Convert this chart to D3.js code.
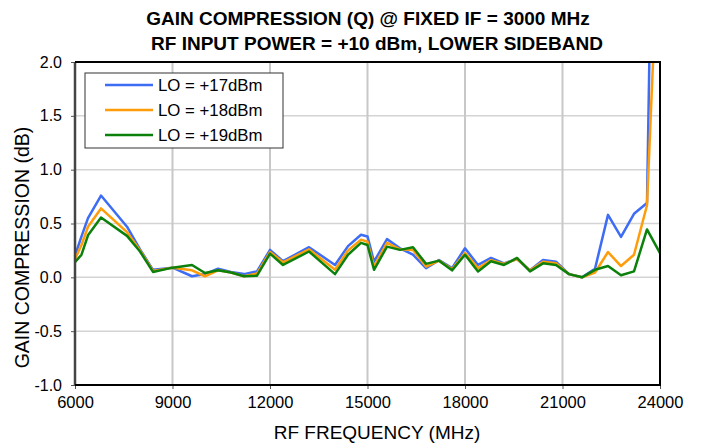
<!DOCTYPE html>
<html>
<head>
<meta charset="utf-8">
<script src="https://cdn.jsdelivr.net/npm/d3@7"></script>
<style>
  body { margin: 0; background: #fff; }
  text { font-family: "Liberation Sans", Arial, sans-serif; fill: #000; }
</style>
</head>
<body>
<svg id="chart" width="701" height="445"></svg>
<script>
// RF frequency (MHz) for each reading
const freq = [6000, 6200, 6400, 6800, 7600, 8000, 8400, 9000, 9600, 10000, 10400, 10800, 11200, 11600,
    12000, 12400, 13200, 14000, 14400, 14800, 15000, 15200, 15600, 16000, 16400, 16800, 17200, 17600,
    18000, 18400, 18800, 19200, 19600, 20000, 20400, 20800, 21200, 21600, 22000, 22400, 22800, 23200, 23600, 24000]

// gain compression (dB)
const lo17 = [0.20, 0.38, 0.55, 0.76, 0.47, 0.26, 0.07, 0.09, 0.01, 0.03, 0.08, 0.05, 0.03, 0.055,
    0.255, 0.15, 0.28, 0.115, 0.29, 0.395, 0.38, 0.145, 0.355, 0.27, 0.21, 0.085, 0.16, 0.085,
    0.27, 0.115, 0.18, 0.13, 0.17, 0.065, 0.16, 0.145, 0.03, 0.0, 0.08, 0.58, 0.375, 0.59, 0.69, 8.0]
const lo18 = [0.17, 0.30, 0.47, 0.64, 0.42, 0.25, 0.06, 0.09, 0.065, 0.01, 0.065, 0.045, 0.01, 0.035,
    0.235, 0.14, 0.26, 0.07, 0.25, 0.35, 0.33, 0.10, 0.32, 0.26, 0.255, 0.10, 0.155, 0.075,
    0.225, 0.085, 0.16, 0.125, 0.17, 0.065, 0.145, 0.13, 0.03, 0.0, 0.045, 0.235, 0.105, 0.21, 0.67, 3.55]
const lo19 = [0.14, 0.21, 0.39, 0.555, 0.385, 0.24, 0.05, 0.09, 0.115, 0.04, 0.065, 0.045, 0.01, 0.015,
    0.22, 0.115, 0.24, 0.03, 0.21, 0.32, 0.30, 0.07, 0.285, 0.255, 0.28, 0.125, 0.155, 0.065,
    0.21, 0.055, 0.15, 0.115, 0.18, 0.055, 0.13, 0.115, 0.03, 0.0, 0.07, 0.105, 0.02, 0.055, 0.445, 0.225]

const seriesNames = ["LO = +17dBm", "LO = +18dBm", "LO = +19dBm"]
const seriesColors = ["#3d6cf5", "#ff9c0a", "#0b800b"]
const xTicks = [6000, 9000, 12000, 15000, 18000, 21000, 24000]
const yTicks = [-1.0, -0.5, 0.0, 0.5, 1.0, 1.5, 2.0]

const svg = d3.select("#chart")
const pLeft = 75, pRight = 660, pTop = 62, pBottom = 385

const x = d3.scaleLinear().domain([6000, 24000]).range([pLeft, pRight])
const y = d3.scaleLinear().domain([-1, 2]).range([pBottom, pTop])

// grid
svg.append("g")
    .selectAll("line")
    .data(yTicks.slice(1, -1))
    .enter()
    .append("line")
        .attr("x1", pLeft).attr("x2", pRight)
        .attr("y1", d => y(d)).attr("y2", d => y(d))
        .attr("stroke", "#d4d4d4")
        .attr("stroke-width", 1.5)

svg.append("g")
    .selectAll("line")
    .data(xTicks.slice(1, -1))
    .enter()
    .append("line")
        .attr("x1", d => x(d)).attr("x2", d => x(d))
        .attr("y1", pTop).attr("y2", pBottom)
        .attr("stroke", "#c8c8c8")
        .attr("stroke-width", 2)

// axes
const xAxis = svg.append("g")
    .attr("transform", `translate(0,${pBottom})`)
    .call(d3.axisBottom(x).tickValues(xTicks).tickFormat(d3.format("d")).tickSize(4).tickPadding(7))
xAxis.select(".domain").remove()
xAxis.selectAll("line").attr("stroke", "#555")
xAxis.selectAll("text").style("font-size", "16.5px")

const yAxis = svg.append("g")
    .attr("transform", `translate(${pLeft},0)`)
    .call(d3.axisLeft(y).tickValues(yTicks).tickFormat(d => d.toFixed(1)).tickSize(4).tickPadding(9))
yAxis.select(".domain").remove()
yAxis.selectAll("line").attr("stroke", "#555")
yAxis.selectAll("text").style("font-size", "16px")

// lines
svg.append("clipPath").attr("id", "clip")
    .append("rect")
        .attr("x", pLeft).attr("y", pTop)
        .attr("width", pRight - pLeft).attr("height", pBottom - pTop)

const line = d3.line()
    .x((d, i) => x(freq[i]))
    .y(d => y(d))

const plot = svg.append("g").attr("clip-path", "url(#clip)")
;[lo17, lo18, lo19].forEach((vals, i) => {
    plot.append("path")
        .attr("d", line(vals))
        .attr("fill", "none")
        .attr("stroke", seriesColors[i])
        .attr("stroke-width", 2.5)
        .attr("stroke-linejoin", "round")
})

// frame
svg.append("line")
    .attr("x1", pLeft).attr("x2", pLeft).attr("y1", pTop).attr("y2", pBottom)
    .attr("stroke", "#444").attr("stroke-width", 2.5)
svg.append("path")
    .attr("d", `M${pLeft},${pTop}H${pRight}V${pBottom}H${pLeft}`)
    .attr("fill", "none")
    .attr("stroke", "#000")
    .attr("stroke-width", 2)

// legend
const legend = svg.append("g")
legend.append("rect")
    .attr("x", 85).attr("y", 73).attr("width", 198).attr("height", 75)
    .attr("fill", "#fff")
    .attr("stroke", "#333")
    .attr("stroke-width", 1)

seriesNames.forEach((name, i) => {
    const ly = 85 + i * 25
    legend.append("line")
        .attr("x1", 105).attr("x2", 153)
        .attr("y1", ly).attr("y2", ly)
        .attr("stroke", seriesColors[i])
        .attr("stroke-width", 2.5)
    legend.append("text")
        .attr("x", 158).attr("y", ly + 6)
        .style("font-size", "16.8px")
        .text(name)
})

// titles
svg.append("text")
    .attr("x", 368).attr("y", 25)
    .attr("text-anchor", "middle")
    .style("font-size", "19px").style("font-weight", "bold")
    .text("GAIN COMPRESSION (Q) @ FIXED IF = 3000 MHz")
svg.append("text")
    .attr("x", 377).attr("y", 50)
    .attr("text-anchor", "middle")
    .style("font-size", "19px").style("font-weight", "bold")
    .text("RF INPUT POWER = +10 dBm, LOWER SIDEBAND")

svg.append("text")
    .attr("x", 377).attr("y", 439)
    .attr("text-anchor", "middle")
    .style("font-size", "19px")
    .text("RF FREQUENCY (MHz)")

svg.append("text")
    .attr("transform", `translate(29,${(pTop + pBottom) / 2 + 24}) rotate(-90)`)
    .attr("text-anchor", "middle")
    .style("font-size", "19.5px")
    .text("GAIN COMPRESSION (dB)")
</script>
</body>
</html>
